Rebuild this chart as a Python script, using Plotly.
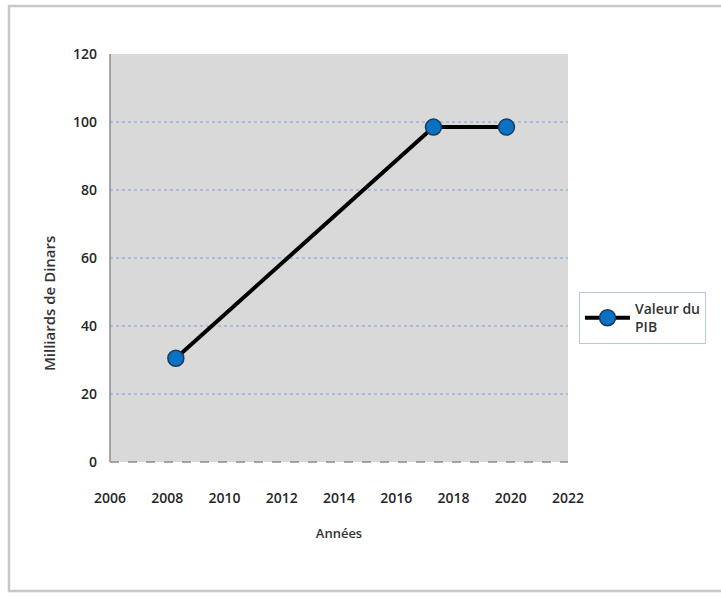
import plotly.graph_objects as go

annees = [2008.3, 2017.3, 2019.85]
valeur_pib = [30.5, 98.5, 98.5]
x_ticks = [2006, 2008, 2010, 2012, 2014, 2016, 2018, 2020, 2022]
y_ticks = [0, 20, 40, 60, 80, 100, 120]

W, H = 721, 597
L, R, T, B = 110, 568, 54, 462
pw, ph = R - L, B - T

def px(xpix):
    return (xpix - L) / pw

def py(ypix):
    return (B - ypix) / ph

font_main = "Open Sans"

fig = go.Figure()
fig.add_trace(go.Scatter(
    x=annees, y=valeur_pib, mode="lines+markers",
    name="Valeur du<br>PIB",
    line=dict(color="black", width=4),
    marker=dict(size=16, color="#0a72c4", line=dict(color="#1b3a5c", width=1.5)),
    showlegend=True,
))

fig.update_layout(
    width=W, height=H,
    margin=dict(l=L, r=W - R, t=T, b=H - B),
    paper_bgcolor="white",
    plot_bgcolor="#d9d9d9",
    font=dict(family=font_main, size=13, color="#333333"),
    xaxis=dict(
        range=[2006, 2022], tickvals=x_ticks, showgrid=False, zeroline=False,
        showline=False, ticks="", tickfont=dict(size=14, color="#262626", weight=600),
        ticklabelstandoff=26,
        title=dict(text="Années", font=dict(size=13, color="#333333", weight=600), standoff=22),
    ),
    yaxis=dict(
        range=[0, 120], tickvals=y_ticks, showgrid=True,
        gridcolor="#a9bcd8", griddash="dot", gridwidth=1.5,
        zeroline=False, showline=False, ticks="",
        tickfont=dict(size=14, color="#262626", weight=600),
        ticklabelstandoff=12,
    ),
    legend=dict(
        x=px(579), y=py(292), xanchor="left", yanchor="top",
        bgcolor="white", bordercolor="#b7c7de", borderwidth=1,
        font=dict(size=14, color="#333333", weight=600),
        itemwidth=45,
    ),
)

# y-axis title
fig.add_annotation(
    text="Milliards de Dinars", xref="paper", yref="paper",
    x=px(49), y=py(304), xanchor="center", yanchor="middle",
    textangle=-90, showarrow=False,
    font=dict(size=15, color="#333333", weight=600),
)

# left axis line
fig.add_shape(type="line", xref="paper", yref="paper", x0=0, x1=0, y0=0, y1=1,
              line=dict(color="#8c8c8c", width=1.5))
# bottom dashed axis line
fig.add_shape(type="line", xref="paper", yref="paper", x0=0, x1=1, y0=0, y1=0,
              line=dict(color="#8c8c8c", width=1.5, dash="dash"))
# outer chart border
fig.add_shape(type="rect", xref="paper", yref="paper",
              x0=px(9), x1=px(728), y0=py(591), y1=py(6),
              line=dict(color="#c8c8c8", width=2.5), layer="below")

fig.write_html("out.html")
